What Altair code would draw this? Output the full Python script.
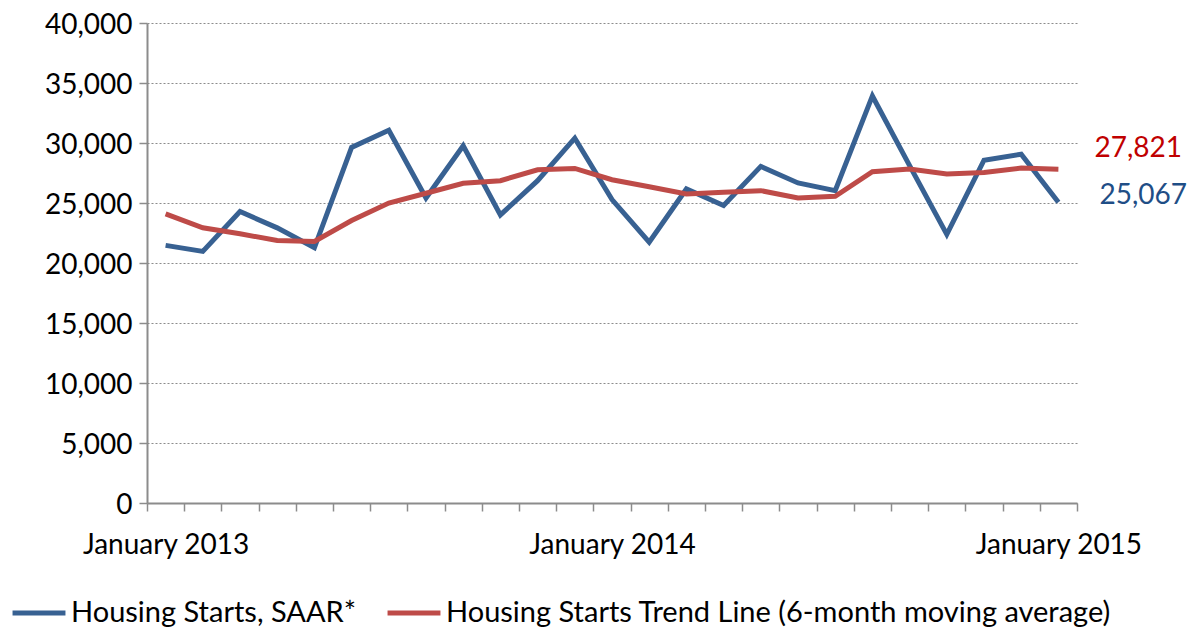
import altair as alt
import pandas as pd

# Monthly data, Jan 2013 .. Jan 2015 (25 months)
month_index = list(range(25))
starts_saar = [21470, 20970, 24290, 22930, 21270, 29630, 31060, 25420, 29770, 24010,
               26860, 30400, 25290, 21740, 26170, 24790, 28050, 26670, 26030, 33920,
               28110, 22380, 28570, 29070, 25067]
trend_6m = [24090, 22930, 22430, 21880, 21800, 23540, 25000, 25810, 26640, 26860,
            27770, 27880, 26940, 26360, 25750, 25890, 26030, 25420, 25560, 27610,
            27830, 27410, 27550, 27910, 27821]
series_names = ["Housing Starts, SAAR*",
                "Housing Starts Trend Line (6-month moving average)"]
series_colors = ["#386192", "#BE4B48"]
label_colors = ["#1F4E86", "#C00000"]
x_label_pos = [0, 12, 24]
x_label_text = ["January 2013", "January 2014", "January 2015"]
y_ticks = [0, 5000, 10000, 15000, 20000, 25000, 30000, 35000, 40000]

FONT = "Lato"
W, H = 930, 480
band = W / 25.0

rows = []
for i in month_index:
    rows.append({"i": i, "v": starts_saar[i], "s": series_names[0]})
    rows.append({"i": i, "v": trend_6m[i], "s": series_names[1]})
df = pd.DataFrame(rows)

last_df = pd.DataFrame({
    "i": [month_index[-1], month_index[-1]],
    "v": [starts_saar[-1], trend_6m[-1]],
    "s": series_names,
})

boundaries = [k - 0.5 for k in range(26)]
expr_parts = []
for p, t in zip(x_label_pos, x_label_text):
    expr_parts.append(f"datum.value == {p - 0.5} ? '{t}' : ")
label_expr = "".join(expr_parts) + "''"

x_enc = alt.X(
    "i:Q",
    scale=alt.Scale(domain=[-0.5, 24.5], nice=False, zero=False),
    axis=alt.Axis(
        values=boundaries, tickCount=60, labelExpr=label_expr,
        labelOffset=band / 2,
        labelFlush=False, labelOverlap=False, labelBound=False,
        title=None, grid=False, domainColor="#8c8c8c", domainWidth=2,
        tickColor="#8c8c8c", tickWidth=1.5, tickSize=8,
        labelFont=FONT, labelFontSize=28, labelColor="#000000", labelPadding=20,
    ),
)
y_enc = alt.Y(
    "v:Q",
    scale=alt.Scale(domain=[0, 40000], nice=False),
    axis=alt.Axis(
        values=y_ticks, tickCount=20, format=",.0f", title=None, grid=True,
        gridColor="#8c8c8c", gridDash=[2, 2], gridWidth=1.2,
        domainColor="#8c8c8c", domainWidth=2, tickColor="#8c8c8c",
        tickWidth=1.5, tickSize=8, labelFont=FONT, labelFontSize=28,
        labelColor="#000000", labelPadding=7, labelOffset=2,
    ),
)

color_enc = alt.Color(
    "s:N",
    scale=alt.Scale(domain=series_names, range=series_colors),
    legend=alt.Legend(
        orient="none", legendX=-137, legendY=561, direction="horizontal",
        title=None, symbolType="stroke", symbolSize=2800, symbolStrokeWidth=5,
        labelFont=FONT, labelFontSize=29, labelColor="#000000",
        columnPadding=20, labelOffset=3, labelLimit=900,
    ),
)

lines = alt.Chart(df).mark_line(strokeWidth=5).encode(
    x=x_enc, y=y_enc, color=color_enc, order="i:Q"
)

lab_blue = alt.Chart(last_df[last_df.s == series_names[0]]).mark_text(
    align="left", baseline="middle", dx=41, dy=-6, font=FONT, fontSize=28,
    color=label_colors[0]
).encode(x="i:Q", y="v:Q", text=alt.Text("v:Q", format=","))

lab_red = alt.Chart(last_df[last_df.s == series_names[1]]).mark_text(
    align="left", baseline="middle", dx=36, dy=-20, font=FONT, fontSize=28,
    color=label_colors[1]
).encode(x="i:Q", y="v:Q", text=alt.Text("v:Q", format=","))

chart = alt.layer(lines, lab_blue, lab_red).properties(
    width=W, height=H,
    autosize=alt.AutoSizeParams(type="none"),
    padding={"left": 139, "top": 15, "right": 110, "bottom": 134},
).configure_view(stroke=None)

chart.save("out.html", embed_options={"renderer": "svg", "actions": False})
